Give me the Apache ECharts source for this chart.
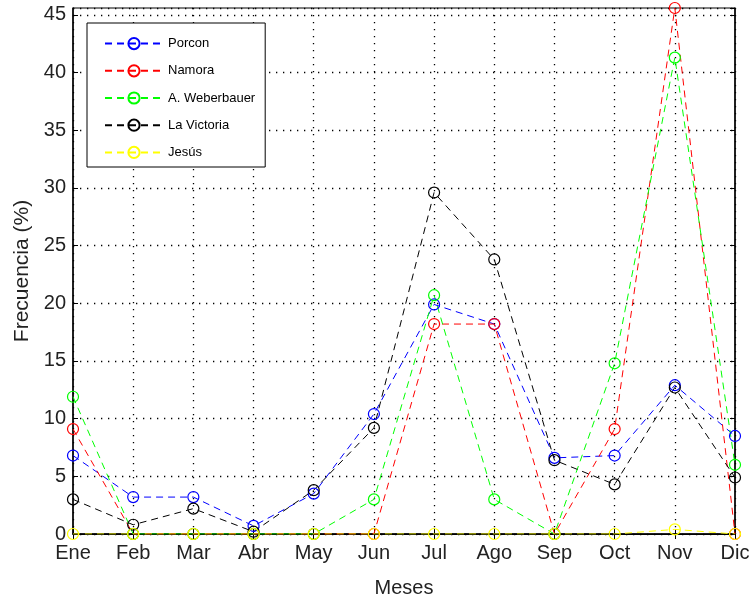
<!DOCTYPE html>
<html>
<head>
<meta charset="utf-8">
<script src="https://cdn.jsdelivr.net/npm/echarts@6/dist/echarts.min.js"></script>
<style>
    html, body { margin: 0; padding: 0; background: #fff; }
    #chart { width: 751px; height: 601px; }
</style>
</head>
<body>
<div id="chart"></div>
<script>
    // meses y frecuencias (%) por estacion
    const meses = ["Ene", "Feb", "Mar", "Abr", "May", "Jun", "Jul", "Ago", "Sep", "Oct", "Nov", "Dic"];
    const porcon = [6.8, 3.2, 3.2, 0.7, 3.5, 10.4, 19.9, 18.2, 6.6, 6.8, 12.9, 8.5];
    const namora = [9.1, 0, 0, 0, 0, 0, 18.2, 18.2, 0, 9.1, 45.6, 0];
    const weberbauer = [11.9, 0, 0, 0, 0, 3.0, 20.7, 3.0, 0, 14.8, 41.3, 6.0];
    const laVictoria = [3.0, 0.8, 2.2, 0.2, 3.8, 9.2, 29.6, 23.8, 6.4, 4.3, 12.7, 4.9];
    const jesus = [0, 0, 0, 0, 0, 0, 0, 0, 0, 0, 0.4, 0];

    const yMax = 45.6;

    const myChart = echarts.init(document.getElementById("chart"));

    function serie(name, color, data) {
        return {
            name: name,
            type: "line",
            data: data,
            symbol: "circle",
            symbolSize: 11,
            showSymbol: true,
            lineStyle: {
                color: color,
                width: 1,
                type: [7, 5]
            },
            itemStyle: {
                color: "transparent",
                borderColor: color,
                borderWidth: 1.2
            },
            emphasis: { disabled: true },
            animation: false
        };
    }

    const fuente = "'Liberation Sans', 'DejaVu Sans', sans-serif";

    let option = {
        backgroundColor: "#fff",
        grid: {
            left: 73,
            right: 16,
            top: 8,
            bottom: 67,
            outerBoundsMode: "none",
            show: true,
            borderColor: "#000",
            borderWidth: 1
        },
        legend: {
            orient: "vertical",
            left: 87,
            top: 23,
            padding: [14, 10, 8, 17],
            itemWidth: 58,
            itemHeight: 14,
            itemGap: 14,
            backgroundColor: "#fff",
            borderColor: "#000",
            borderWidth: 1,
            textStyle: {
                fontFamily: fuente,
                fontSize: 13,
                color: "#000"
            },
            data: ["Porcon", "Namora", "A. Weberbauer", "La Victoria", "Jesús"]
        },
        xAxis: [{
            type: "category",
            data: meses,
            boundaryGap: false,
            name: "Meses",
            nameLocation: "middle",
            nameGap: 44,
            nameTextStyle: { fontFamily: fuente, fontSize: 20, color: "#222" },
            axisLine: { lineStyle: { color: "#000", width: 1.5 } },
            axisTick: { inside: true, length: 5, lineStyle: { color: "#000" }, alignWithLabel: true },
            axisLabel: { fontFamily: fuente, fontSize: 20, color: "#222", margin: 9, interval: 0 },
            splitLine: { show: true, lineStyle: { color: "#000", type: [1.3, 5.7], width: 1.3 } }
        }, {
            type: "category",
            data: meses,
            boundaryGap: false,
            position: "top",
            axisLine: { lineStyle: { color: "#000", width: 1 } },
            axisTick: { inside: true, length: 5, lineStyle: { color: "#000" } },
            axisLabel: { show: false },
            splitLine: { show: false }
        }],
        yAxis: [{
            type: "value",
            min: 0,
            max: yMax,
            interval: 5,
            name: "Frecuencia (%)",
            nameLocation: "middle",
            nameGap: 40,
            nameTextStyle: { fontFamily: fuente, fontSize: 21, color: "#222" },
            axisLine: { show: true, lineStyle: { color: "#000", width: 1.5 } },
            axisTick: { show: true, inside: true, length: 5, lineStyle: { color: "#000" } },
            axisLabel: { fontFamily: fuente, fontSize: 20, color: "#222", margin: 7, showMaxLabel: false },
            splitLine: { show: true, lineStyle: { color: "#000", type: [1.3, 5.7], width: 1.3 } }
        }, {
            type: "value",
            min: 0,
            max: yMax,
            interval: 5,
            position: "right",
            axisLine: { show: true, lineStyle: { color: "#000", width: 1.5 } },
            axisTick: { show: true, inside: true, length: 5, lineStyle: { color: "#000" } },
            axisLabel: { show: false },
            splitLine: { show: false }
        }],
        series: [
            serie("Porcon", "#0000ff", porcon),
            serie("Namora", "#ff0000", namora),
            serie("A. Weberbauer", "#00ff00", weberbauer),
            serie("La Victoria", "#000000", laVictoria),
            serie("Jesús", "#ffff00", jesus)
        ]
    };
    myChart.setOption(option);
</script>
</body>
</html>
